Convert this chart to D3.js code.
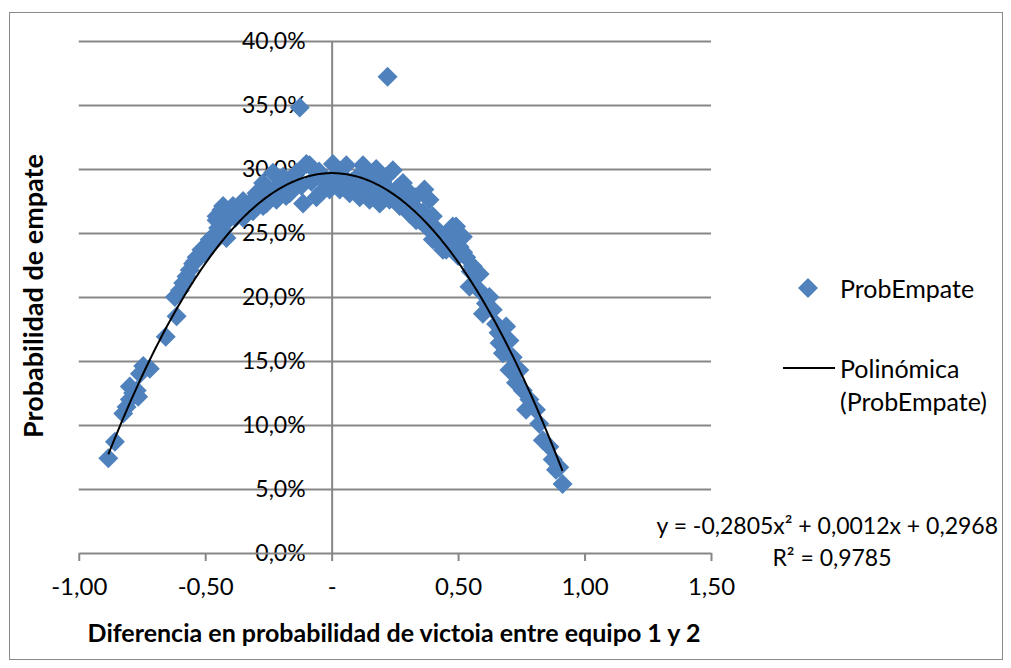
<!DOCTYPE html>
<html>
<head>
<meta charset="utf-8">
<script src="https://cdn.jsdelivr.net/npm/d3@7"></script>
<style>
  html, body { margin: 0; padding: 0; background: #fff; }
  svg { display: block; font-family: Lato, "Open Sans", sans-serif; }
</style>
</head>
<body>
<svg id="chart" width="1011" height="668"></svg>
<script>
// ---- Data ----
const diffValues = [
  -0.883, -0.857, -0.824, -0.811, -0.798, -0.798, -0.785, -0.771, -0.765, -0.758,
  -0.745, -0.719, -0.656, -0.613, -0.620, -0.600, -0.587, -0.574, -0.561, -0.548,
  -0.534, -0.515, -0.505, -0.495, -0.482, -0.470, -0.462, -0.455, -0.455, -0.449,
  -0.436, -0.430, -0.429, -0.416, -0.403, -0.390, -0.380, -0.363, -0.350, -0.337,
  -0.320, -0.311, -0.311, -0.297, -0.291, -0.280, -0.271, -0.271, -0.258, -0.258,
  -0.240, -0.232, -0.218, -0.200, -0.192, -0.166, -0.160, -0.139, -0.126, -0.120,
  -0.113, -0.100, -0.087, -0.080, -0.060, -0.040, -0.034, -0.008, 0.005, 0.020,
  0.032, 0.045, 0.058, 0.071, 0.080, 0.097, 0.111, 0.124, 0.130, 0.150,
  0.163, 0.176, 0.180, 0.190, 0.203, 0.216, 0.216, 0.221, 0.229, 0.242,
  0.250, 0.269, 0.282, 0.290, 0.308, 0.321, 0.330, 0.334, 0.348, 0.360,
  0.367, 0.374, 0.387, 0.400, 0.400, 0.413, 0.420, 0.440, 0.453, 0.453,
  0.470, 0.479, 0.492, 0.500, 0.506, 0.519, 0.532, 0.545, 0.558, 0.571,
  0.585, 0.585, 0.598, 0.624, 0.637, 0.650, 0.664, 0.677, 0.690, 0.703,
  0.703, 0.716, 0.729, 0.742, 0.756, 0.769, 0.782, 0.808, 0.821, 0.835,
  0.861, 0.874, 0.887, 0.900, 0.913,
  -0.350, -0.300, -0.220, -0.180, -0.050, 0.000, 0.060, 0.100, 0.140, 0.200,
  0.260, 0.300, 0.330, 0.430, 0.460, 0.490, 0.520, 0.550, 0.610, 0.660,
  0.720, -0.540, -0.480, -0.420, -0.390
];
const drawProbValues = [
  0.074, 0.087, 0.109, 0.114, 0.120, 0.130, 0.125, 0.127, 0.122, 0.140,
  0.146, 0.144, 0.169, 0.185, 0.200, 0.205, 0.211, 0.216, 0.221, 0.226,
  0.231, 0.237, 0.234, 0.239, 0.245, 0.242, 0.248, 0.260, 0.263, 0.254,
  0.268, 0.252, 0.271, 0.246, 0.263, 0.271, 0.262, 0.268, 0.262, 0.271,
  0.270, 0.276, 0.267, 0.281, 0.281, 0.276, 0.289, 0.271, 0.273, 0.286,
  0.282, 0.297, 0.276, 0.286, 0.294, 0.281, 0.290, 0.297, 0.348, 0.287,
  0.273, 0.304, 0.303, 0.290, 0.278, 0.282, 0.291, 0.284, 0.304, 0.296,
  0.284, 0.294, 0.303, 0.281, 0.290, 0.293, 0.278, 0.303, 0.286, 0.276,
  0.289, 0.300, 0.284, 0.273, 0.276, 0.286, 0.294, 0.372, 0.276, 0.299,
  0.280, 0.271, 0.289, 0.276, 0.265, 0.265, 0.270, 0.260, 0.260, 0.266,
  0.284, 0.255, 0.276, 0.245, 0.263, 0.245, 0.252, 0.237, 0.237, 0.247,
  0.245, 0.255, 0.255, 0.232, 0.239, 0.247, 0.231, 0.208, 0.224, 0.216,
  0.205, 0.218, 0.187, 0.200, 0.190, 0.179, 0.164, 0.156, 0.177, 0.143,
  0.166, 0.153, 0.133, 0.143, 0.127, 0.112, 0.120, 0.112, 0.101, 0.088,
  0.083, 0.073, 0.065, 0.067, 0.054,
  0.275, 0.272, 0.285, 0.279, 0.298, 0.292, 0.287, 0.285, 0.295, 0.290,
  0.285, 0.283, 0.278, 0.245, 0.243, 0.240, 0.235, 0.220, 0.195, 0.172,
  0.140, 0.228, 0.244, 0.258, 0.266
];
// Polynomial trendline reported by the chart
const trendCoefficients = [-0.2805, 0.0012, 0.2968];   // a, b, c
const trendRange = [-0.883, 0.913];
const equationLabel = "y = -0,2805x\u00B2 + 0,0012x + 0,2968";
const rSquaredLabel = "R\u00B2 = 0,9785";

const xTickValues = [-1, -0.5, 0, 0.5, 1, 1.5];
const xTickLabels = ["-1,00", "-0,50", "-", "0,50", "1,00", "1,50"];
const yTickValues = [0, 0.05, 0.10, 0.15, 0.20, 0.25, 0.30, 0.35, 0.40];
const yTickLabels = ["0,0%", "5,0%", "10,0%", "15,0%", "20,0%", "25,0%", "30,0%", "35,0%", "40,0%"];

const seriesName = "ProbEmpate";
const trendNameLines = ["Polinómica", "(ProbEmpate)"];
const xTitle = "Diferencia en probabilidad de victoia entre equipo 1 y 2";
const yTitle = "Probabilidad de empate";

// ---- Layout ----
const svg = d3.select("#chart");
const plot = { left: 78.75, right: 711, top: 41, bottom: 553 };
const blue = "#4F81BD";
const grid = "#878787";
const fontSize = 23;

const x = d3.scaleLinear().domain([-1, 1.5]).range([plot.left, plot.right]);
const y = d3.scaleLinear().domain([0, 0.4]).range([plot.bottom, plot.top]);

// outer border
svg.append("rect")
  .attr("x", 9.5).attr("y", 12.5)
  .attr("width", 993).attr("height", 647)
  .attr("fill", "#fff").attr("stroke", "#8a8a8a").attr("stroke-width", 1);

// horizontal gridlines
const gGrid = svg.append("g")
  .attr("transform", `translate(${plot.left},0)`)
  .call(d3.axisLeft(y).tickValues(yTickValues.slice(1)).tickSize(-(plot.right - plot.left)).tickFormat(""));
gGrid.select(".domain").remove();
gGrid.selectAll("line").attr("stroke", grid).attr("stroke-width", 2);

// y axis (crosses at x = 0) with its labels
const yLabelMap = new Map(yTickValues.map((v, i) => [v, yTickLabels[i]]));
const gY = svg.append("g")
  .attr("transform", `translate(${x(0)},0)`)
  .call(d3.axisLeft(y).tickValues(yTickValues).tickSize(0).tickPadding(26)
        .tickFormat(d => yLabelMap.get(d)));
gY.select(".domain").attr("stroke", grid).attr("stroke-width", 2);
gY.selectAll("text").attr("font-size", fontSize).attr("fill", "#000")
  .attr("font-family", "Lato, sans-serif");

// x axis (crosses at y = 0)
const xLabelMap = new Map(xTickValues.map((v, i) => [v, xTickLabels[i]]));
const gX = svg.append("g")
  .attr("transform", `translate(0,${y(0)})`)
  .call(d3.axisBottom(x).tickValues(xTickValues).tickSize(8).tickSizeOuter(0).tickPadding(17)
        .tickFormat(d => xLabelMap.get(d)));
gX.select(".domain").attr("stroke", grid).attr("stroke-width", 2);
gX.selectAll("line").attr("stroke", grid).attr("stroke-width", 2);
gX.selectAll("text").attr("font-size", 24).attr("fill", "#000")
  .attr("font-family", "Lato, sans-serif");

// points
const diamond = (r) => `M0,${-r}L${r},0L0,${r}L${-r},0Z`;
const points = diffValues.map((d, i) => ({ x: d, y: drawProbValues[i] }));
svg.append("g").selectAll("path")
  .data(points)
  .join("path")
  .attr("d", diamond(10))
  .attr("transform", d => `translate(${x(d.x)},${y(d.y)})`)
  .attr("fill", blue);

// trendline
const [a, b, c] = trendCoefficients;
const trendPts = d3.range(0, 201).map(i => {
  const xv = trendRange[0] + (trendRange[1] - trendRange[0]) * i / 200;
  return [xv, a * xv * xv + b * xv + c];
});
svg.append("path")
  .datum(trendPts)
  .attr("d", d3.line().x(d => x(d[0])).y(d => y(d[1])))
  .attr("fill", "none").attr("stroke", "#000").attr("stroke-width", 2);

// axis titles
svg.append("text")
  .attr("x", 394).attr("y", 632)
  .attr("text-anchor", "middle").attr("dominant-baseline", "central")
  .attr("font-size", 25).attr("font-weight", "bold")
  .text(xTitle);
svg.append("text")
  .attr("transform", "translate(32,296) rotate(-90)")
  .attr("text-anchor", "middle").attr("dominant-baseline", "central")
  .attr("font-size", 27).attr("font-weight", "bold")
  .text(yTitle);

// legend
svg.append("path").attr("d", diamond(10)).attr("transform", "translate(808,288)").attr("fill", blue);
svg.append("text").attr("x", 840).attr("y", 288).attr("dominant-baseline", "central")
  .attr("font-size", 25).text(seriesName);
svg.append("line").attr("x1", 783).attr("x2", 835).attr("y1", 368).attr("y2", 368)
  .attr("stroke", "#000").attr("stroke-width", 2);
svg.append("text").attr("x", 840).attr("y", 368).attr("dominant-baseline", "central")
  .attr("font-size", 25).text(trendNameLines[0]);
svg.append("text").attr("x", 840).attr("y", 401).attr("dominant-baseline", "central")
  .attr("font-size", 25).text(trendNameLines[1]);

// trendline equation
svg.append("text").attr("x", 998).attr("y", 525).attr("text-anchor", "end")
  .attr("dominant-baseline", "central").attr("font-size", fontSize).text(equationLabel);
svg.append("text").attr("x", 832).attr("y", 557).attr("text-anchor", "middle")
  .attr("dominant-baseline", "central").attr("font-size", fontSize).text(rSquaredLabel);
</script>
</body>
</html>
